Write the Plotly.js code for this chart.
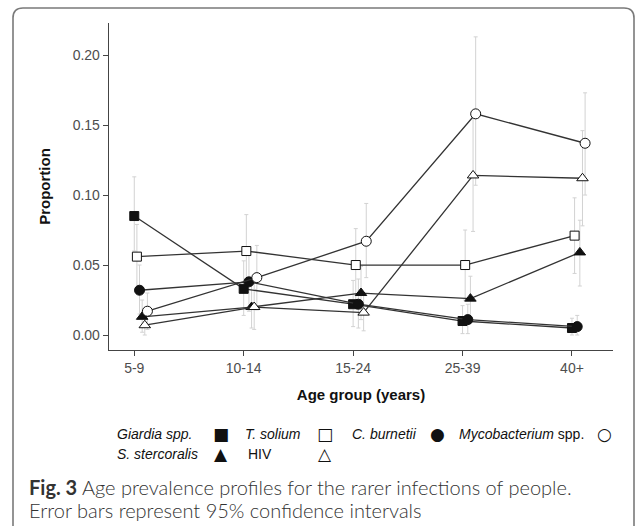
<!DOCTYPE html>
<html>
<head>
<meta charset="utf-8">
<script src="https://cdn.plot.ly/plotly-3.0.1.min.js"></script>
<style>
  html, body { margin: 0; padding: 0; background: #ffffff; }
  #chart { width: 637px; height: 526px; }
</style>
</head>
<body>
<div id="chart"></div>
<script>
// ---- Data ----
const ageGroups = ['5-9', '10-14', '15-24', '25-39', '40+'];

const seriesNames = ['Giardia spp.', 'T. solium', 'C. burnetii', 'S. stercoralis', 'HIV', 'Mycobacterium spp.'];

const giardia      = [0.085, 0.033, 0.022, 0.010, 0.005];
const giardiaLo    = [0.060, 0.014, 0.006, 0.001, 0.000];
const giardiaHi    = [0.113, 0.053, 0.039, 0.021, 0.012];

const tSolium      = [0.056, 0.060, 0.050, 0.050, 0.071];
const tSoliumLo    = [0.034, 0.035, 0.025, 0.025, 0.044];
const tSoliumHi    = [0.079, 0.086, 0.076, 0.075, 0.098];

const cBurnetii    = [0.032, 0.038, 0.022, 0.011, 0.006];
const cBurnetiiLo  = [0.015, 0.017, 0.005, 0.001, 0.000];
const cBurnetiiHi  = [0.050, 0.059, 0.040, 0.022, 0.014];

const sStercoralis   = [0.013, 0.020, 0.030, 0.026, 0.059];
const sStercoralisLo = [0.002, 0.005, 0.011, 0.010, 0.035];
const sStercoralisHi = [0.025, 0.036, 0.049, 0.042, 0.082];

const hiv          = [0.007, 0.020, 0.016, 0.114, 0.112];
const hivLo        = [0.000, 0.004, 0.003, 0.074, 0.078];
const hivHi        = [0.016, 0.037, 0.030, 0.155, 0.146];

const myco         = [0.017, 0.041, 0.067, 0.158, 0.137];
const mycoLo       = [0.004, 0.018, 0.041, 0.107, 0.100];
const mycoHi       = [0.030, 0.064, 0.094, 0.213, 0.173];

const yTickVals = [0, 0.05, 0.10, 0.15, 0.20];
const yTickText = ['0.00', '0.05', '0.10', '0.15', '0.20'];

// ---- Styling ----
const W = 637, H = 526;
const plotL = 109, plotR = 613, plotT = 23, plotB = 350;
const px = x => (x - plotL) / (plotR - plotL);
const py = y => (plotB - y) / (plotB - plotT);

const dodgeStep = 0.024;
const lineColor = '#333333';
const markColor = '#111111';
const errColor = '#d2d2d2';

const series = [
  { name: seriesNames[0], y: giardia, lo: giardiaLo, hi: giardiaHi, symbol: 'square', fill: markColor, size: 9 },
  { name: seriesNames[1], y: tSolium, lo: tSoliumLo, hi: tSoliumHi, symbol: 'square', fill: '#ffffff', size: 9 },
  { name: seriesNames[2], y: cBurnetii, lo: cBurnetiiLo, hi: cBurnetiiHi, symbol: 'circle', fill: markColor, size: 10 },
  { name: seriesNames[3], y: sStercoralis, lo: sStercoralisLo, hi: sStercoralisHi, symbol: 'triangle-up', fill: markColor, size: 10 },
  { name: seriesNames[4], y: hiv, lo: hivLo, hi: hivHi, symbol: 'triangle-up', fill: '#ffffff', size: 10 },
  { name: seriesNames[5], y: myco, lo: mycoLo, hi: mycoHi, symbol: 'circle', fill: '#ffffff', size: 10 }
];

const traces = [];
// error bars first (drawn underneath)
series.forEach((s, k) => {
  const xs = ageGroups.map((_, i) => i + k * dodgeStep);
  traces.push({
    type: 'scatter', mode: 'markers', x: xs, y: s.y,
    marker: { size: 1, opacity: 0 },
    error_y: {
      type: 'data', symmetric: false,
      array: s.y.map((v, i) => s.hi[i] - v),
      arrayminus: s.y.map((v, i) => v - s.lo[i]),
      color: errColor, thickness: 1, width: 2
    },
    showlegend: false, hoverinfo: 'skip'
  });
});
// lines and markers
series.forEach((s, k) => {
  const xs = ageGroups.map((_, i) => i + k * dodgeStep);
  traces.push({
    type: 'scatter', mode: 'lines+markers', name: s.name, x: xs, y: s.y,
    line: { color: lineColor, width: 1.3 },
    marker: { symbol: s.symbol, size: s.size, color: s.fill, line: { color: markColor, width: 1 } },
    showlegend: false
  });
});

// ---- Legend (label then key) and caption ----
const legFont = { family: 'Liberation Sans, Arial, sans-serif', size: 14, color: '#111111' };
const glyphFont = { family: 'DejaVu Sans, sans-serif', size: 17, color: '#111111' };
const row1 = 434, row2 = 454;
const legendItems = [
  { label: '<i>Giardia spp.</i>', lx: 115, glyph: '\u25A0', gx: 221, y: row1 },
  { label: '<i>T. solium</i>', lx: 243, glyph: '\u25A1', gx: 325, y: row1 },
  { label: '<i>C. burnetii</i>', lx: 350, glyph: '\u25CF', gx: 437, y: row1 },
  { label: '<i>Mycobacterium</i> spp.', lx: 457, glyph: '\u25CB', gx: 604, y: row1 },
  { label: '<i>S. stercoralis</i>', lx: 115, glyph: '\u25B2', gx: 221, y: row2 },
  { label: 'HIV', lx: 246, glyph: '\u25B3', gx: 325, y: row2 }
];
const annotations = [];
legendItems.forEach(it => {
  annotations.push({ xref: 'paper', yref: 'paper', x: px(it.lx), y: py(it.y), xanchor: 'left', yanchor: 'middle',
    text: it.label, showarrow: false, font: legFont });
  annotations.push({ xref: 'paper', yref: 'paper', x: px(it.gx), y: py(it.y), xanchor: 'center', yanchor: 'middle',
    text: it.glyph, showarrow: false, font: glyphFont });
});
const capFont = { family: 'Lato, Noto Sans, sans-serif', size: 20, color: '#333333', weight: 300 };
annotations.push({ xref: 'paper', yref: 'paper', x: px(27), y: py(487), xanchor: 'left', yanchor: 'middle',
  text: '<b>Fig. 3</b> Age prevalence profiles for the rarer infections of people.', showarrow: false, font: capFont });
annotations.push({ xref: 'paper', yref: 'paper', x: px(27), y: py(510), xanchor: 'left', yanchor: 'middle',
  text: 'Error bars represent 95% confidence intervals', showarrow: false, font: capFont });

// rounded frame
const fx0 = px(13), fx1 = px(634), fy0 = py(8), fy1 = py(540);
const rx = 10 / (plotR - plotL), ry = 10 / (plotB - plotT);
const framePath = `M ${fx0} ${fy1} L ${fx0} ${fy0 - ry} Q ${fx0} ${fy0} ${fx0 + rx} ${fy0} ` +
  `L ${fx1 - rx} ${fy0} Q ${fx1} ${fy0} ${fx1} ${fy0 - ry} L ${fx1} ${fy1}`;

const tickFont = { family: 'Liberation Sans, Arial, sans-serif', size: 14, color: '#4d4d4d' };
const titleFont = { family: 'Liberation Sans, Arial, sans-serif', size: 15, color: '#111111', weight: 'bold' };

const layout = {
  width: W, height: H,
  margin: { l: plotL, r: W - plotR, t: plotT, b: H - plotB, pad: 0 },
  paper_bgcolor: '#ffffff', plot_bgcolor: '#ffffff',
  showlegend: false,
  xaxis: {
    range: [-0.231, 4.375], tickmode: 'array', tickvals: ageGroups.map((_, i) => i), ticktext: ageGroups,
    showgrid: false, zeroline: false, showline: true, linecolor: '#444444', linewidth: 1.3,
    ticks: 'outside', ticklen: 5, tickcolor: '#444444', tickwidth: 1, tickfont: tickFont,
    title: { text: '<b>Age group (years)</b>', font: titleFont, standoff: 14 }
  },
  yaxis: {
    range: [-0.0107, 0.2229], tickmode: 'array', tickvals: yTickVals, ticktext: yTickText,
    showgrid: false, zeroline: false, showline: true, linecolor: '#444444', linewidth: 1.3,
    ticks: 'outside', ticklen: 5, tickcolor: '#444444', tickwidth: 1, tickfont: tickFont,
    title: { text: '<b>Proportion</b>', font: titleFont, standoff: 18 }
  },
  annotations: annotations,
  shapes: [{ type: 'path', xref: 'paper', yref: 'paper', path: framePath,
    line: { color: '#7a7a7a', width: 1.6 } }]
};

Plotly.newPlot('chart', traces, layout, { displayModeBar: false, staticPlot: true });
</script>
</body>
</html>
